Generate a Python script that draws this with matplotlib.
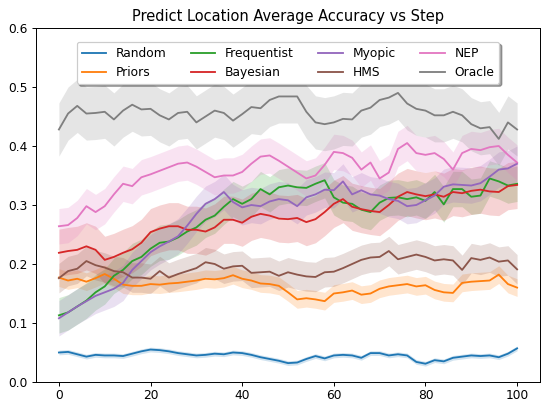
import matplotlib
matplotlib.use("Agg")
import matplotlib.pyplot as plt
import numpy as np

steps = np.arange(0, 101, 2)

random_acc = [0.050, 0.051, 0.047, 0.043, 0.046, 0.045, 0.045, 0.044, 0.048, 0.052,
              0.055, 0.054, 0.052, 0.049, 0.047, 0.045, 0.046, 0.048, 0.047, 0.050,
              0.049, 0.046, 0.042, 0.039, 0.036, 0.032, 0.033, 0.039, 0.044, 0.040,
              0.045, 0.046, 0.045, 0.041, 0.049, 0.049, 0.045, 0.047, 0.045, 0.034,
              0.031, 0.037, 0.035, 0.041, 0.043, 0.045, 0.044, 0.045, 0.042, 0.048, 0.057]
priors_acc = [0.177, 0.172, 0.175, 0.170, 0.176, 0.183, 0.175, 0.165, 0.163, 0.163,
              0.166, 0.165, 0.167, 0.168, 0.170, 0.172, 0.175, 0.174, 0.176, 0.181,
              0.175, 0.172, 0.167, 0.166, 0.163, 0.152, 0.140, 0.142, 0.140, 0.137,
              0.150, 0.152, 0.155, 0.148, 0.150, 0.158, 0.162, 0.164, 0.166, 0.162,
              0.164, 0.156, 0.152, 0.151, 0.168, 0.170, 0.171, 0.172, 0.182, 0.166, 0.160]
frequentist_acc = [0.113, 0.118, 0.128, 0.138, 0.152, 0.162, 0.180, 0.190, 0.205, 0.212,
                   0.226, 0.236, 0.238, 0.245, 0.255, 0.262, 0.275, 0.282, 0.297, 0.310,
                   0.302, 0.310, 0.327, 0.318, 0.330, 0.333, 0.330, 0.329, 0.336, 0.342,
                   0.313, 0.304, 0.302, 0.292, 0.288, 0.304, 0.312, 0.313, 0.310, 0.313,
                   0.307, 0.322, 0.301, 0.327, 0.327, 0.314, 0.316, 0.345, 0.340, 0.333, 0.336]
bayesian_acc = [0.219, 0.222, 0.224, 0.230, 0.224, 0.207, 0.212, 0.219, 0.225, 0.236,
                0.254, 0.260, 0.264, 0.264, 0.258, 0.258, 0.255, 0.262, 0.275, 0.275,
                0.270, 0.280, 0.285, 0.282, 0.277, 0.276, 0.278, 0.271, 0.276, 0.288,
                0.302, 0.310, 0.297, 0.293, 0.290, 0.288, 0.300, 0.314, 0.322, 0.318,
                0.315, 0.318, 0.314, 0.322, 0.320, 0.324, 0.326, 0.323, 0.322, 0.332, 0.334]
myopic_acc = [0.108, 0.118, 0.128, 0.137, 0.146, 0.152, 0.158, 0.168, 0.190, 0.205,
              0.220, 0.230, 0.238, 0.247, 0.265, 0.285, 0.302, 0.310, 0.322, 0.305,
              0.296, 0.300, 0.298, 0.306, 0.310, 0.308, 0.298, 0.313, 0.318, 0.326,
              0.325, 0.340, 0.318, 0.325, 0.318, 0.316, 0.310, 0.307, 0.298, 0.300,
              0.308, 0.316, 0.331, 0.335, 0.334, 0.333, 0.337, 0.348, 0.360, 0.362, 0.370]
hms_acc = [0.176, 0.188, 0.192, 0.205, 0.198, 0.194, 0.188, 0.186, 0.177, 0.177,
           0.175, 0.188, 0.177, 0.183, 0.188, 0.193, 0.203, 0.200, 0.192, 0.196,
           0.197, 0.185, 0.186, 0.187, 0.180, 0.186, 0.182, 0.179, 0.178, 0.186,
           0.187, 0.193, 0.200, 0.207, 0.211, 0.212, 0.222, 0.208, 0.212, 0.216,
           0.212, 0.206, 0.208, 0.206, 0.190, 0.210, 0.207, 0.211, 0.204, 0.206, 0.191]
nep_acc = [0.264, 0.266, 0.278, 0.298, 0.288, 0.298, 0.318, 0.336, 0.332, 0.347,
           0.352, 0.358, 0.364, 0.370, 0.372, 0.365, 0.356, 0.347, 0.350, 0.350,
           0.356, 0.370, 0.382, 0.384, 0.375, 0.365, 0.355, 0.345, 0.350, 0.368,
           0.390, 0.388, 0.380, 0.360, 0.372, 0.345, 0.355, 0.395, 0.405, 0.388,
           0.385, 0.388, 0.378, 0.360, 0.388, 0.395, 0.393, 0.398, 0.400, 0.385, 0.372]
oracle_acc = [0.428, 0.455, 0.468, 0.455, 0.456, 0.458, 0.445, 0.460, 0.470, 0.462,
              0.463, 0.452, 0.445, 0.456, 0.458, 0.440, 0.450, 0.460, 0.456, 0.443,
              0.454, 0.466, 0.464, 0.478, 0.484, 0.484, 0.484, 0.458, 0.440, 0.437,
              0.440, 0.446, 0.445, 0.460, 0.465, 0.478, 0.482, 0.490, 0.472, 0.463,
              0.460, 0.452, 0.452, 0.458, 0.452, 0.437, 0.430, 0.432, 0.412, 0.440, 0.428]

labels = ["Random", "Priors", "Frequentist", "Bayesian", "Myopic", "HMS", "NEP", "Oracle"]
series = [random_acc, priors_acc, frequentist_acc, bayesian_acc,
          myopic_acc, hms_acc, nep_acc, oracle_acc]
# rough half-width of the shaded band for each method
spread = [0.004, 0.015, 0.03, 0.04, 0.03, 0.025, 0.03, 0.045]

# reference looks like a default figure shrunk down, so render at 88 dpi
dpi = 88
fig = plt.figure(figsize=(541 / dpi, 402 / dpi), dpi=dpi)
ax = fig.add_axes([36 / 541, 20 / 402, 504 / 541, 354 / 402])

for i, (lab, vals, sd) in enumerate(zip(labels, series, spread)):
    vals = np.array(vals)
    ax.plot(steps, vals, color="C%d" % i, label=lab)
    ax.fill_between(steps, vals - sd, vals + sd, color="C%d" % i, alpha=0.2, linewidth=0)

ax.set_xlim(-5, 105)
ax.set_ylim(0, 0.6)
ax.tick_params(axis="x", pad=2)
ax.set_title("Predict Location Average Accuracy vs Step")
ax.legend(loc="upper center", bbox_to_anchor=(0.5, 0.978), ncol=4, shadow=True)

fig.savefig("out.png", dpi=dpi)
